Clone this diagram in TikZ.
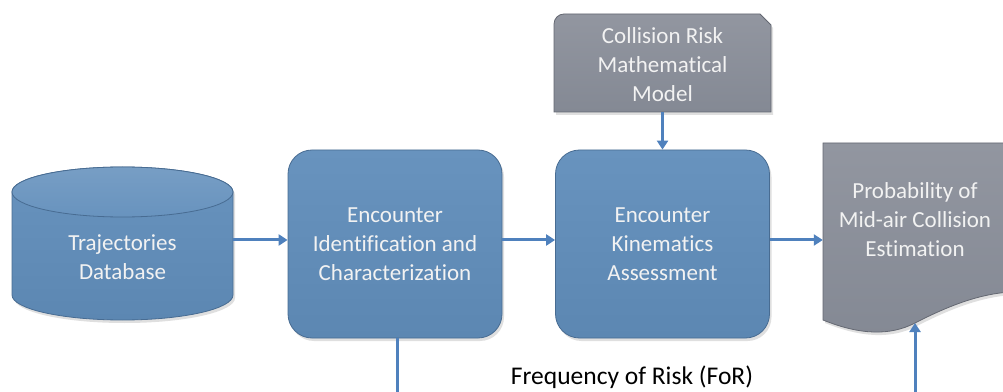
\documentclass[tikz,border=0pt]{standalone}
\usepackage{fontspec}
\setmainfont{Carlito}[Ligatures=NoCommon]
\usetikzlibrary{arrows.meta,shadows}
\definecolor{bluetop}{RGB}{104,147,190}
\definecolor{bluebot}{RGB}{92,135,178}
\definecolor{blueedge}{RGB}{72,108,146}
\definecolor{graytop}{RGB}{146,150,160}
\definecolor{graybot}{RGB}{132,137,148}
\definecolor{grayedge}{RGB}{100,104,114}
\definecolor{arrowblue}{RGB}{79,129,189}
\definecolor{txtwhite}{RGB}{242,242,242}
\tikzset{
  boxfont/.style={font=\fontsize{23}{29}\selectfont, text=txtwhite, align=center},
  bluebox/.style={boxfont, rounded corners=24pt, top color=bluetop, bottom color=bluebot,
     draw=blueedge, line width=0.8pt, minimum width=214pt, minimum height=188pt,
     drop shadow={opacity=0.25, shadow xshift=2pt, shadow yshift=-3pt}},
  blueshape/.style={top color=bluetop, bottom color=bluebot, draw=blueedge, line width=0.8pt,
     drop shadow={opacity=0.25, shadow xshift=2pt, shadow yshift=-3pt}},
  grayshape/.style={top color=graytop, bottom color=graybot, draw=grayedge, line width=0.8pt,
     drop shadow={opacity=0.25, shadow xshift=2pt, shadow yshift=-3pt}},
  ghost/.style={draw=none, fill=none, inner sep=0pt},
  arr/.style={draw=arrowblue, line width=3pt, -{Triangle[length=9pt,width=11pt]}},
  plainline/.style={draw=arrowblue, line width=3pt},
}
\begin{document}
\begin{tikzpicture}[x=1pt,y=1pt]
\useasboundingbox (0,0) rectangle (1003,391);
\fill[white] (0,0) rectangle (1003,391);

% cylinder (database)
\path[blueshape] (12,199) -- (12,96)
   arc[start angle=180, end angle=360, x radius=110.5, y radius=25]
   -- (233,199) arc[start angle=0, end angle=180, x radius=110.5, y radius=25] -- cycle;
\path[draw=blueedge, line width=0.8pt, top color=bluetop!90!white, bottom color=bluetop]
   (122.5,199) ellipse [x radius=110.5, y radius=25];
\node[ghost, minimum width=221pt, minimum height=153pt] (db) at (122.5,147.5) {};
\node[boxfont] (dbtxt) at (122.5,134) {Trajectories\\Database};

% process boxes
\node[bluebox] (b1) at (395,147) {Encounter\\Identification and\\Characterization};
\node[bluebox] (b2) at (662.5,147) {Encounter\\Kinematics\\Assessment};

% collision risk model (snipped corner)
\path[grayshape] (554,279) -- (554,367) arc[start angle=180, end angle=90, radius=10]
   -- (760,377) -- (771,366) -- (771,279) -- cycle;
\node[ghost, minimum width=217pt, minimum height=98pt] (cr) at (662.5,328) {};
\node[boxfont] (crtxt) at (662.5,326) {Collision Risk\\Mathematical\\Model};

% document shape
\path[grayshape] (823,248) -- (823,71)
   .. controls (860,56) and (890,55) .. (915,68)
   .. controls (950,86) and (980,97) .. (1010,99)
   -- (1010,248) -- cycle;
\node[ghost, minimum width=187pt, minimum height=177pt] (doc) at (916.5,160) {};
\node[boxfont] (doctxt) at (915,171) {Probability of\\Mid-air Collision\\Estimation};

% connectors
\coordinate (mid) at (0,151);
\draw[arr] (db.east |- mid) -- (b1.west |- mid);
\draw[arr] (b1.east |- mid) -- (b2.west |- mid);
\draw[arr] (b2.east |- mid) -- (doc.west |- mid);
\draw[arr] (cr.south) -- (b2.north);
\coordinate (b1out) at (397,-10);
\draw[plainline] (b1.south -| b1out) -- (b1out);
\coordinate (docin) at (915,68);
\coordinate (docsrc) at (915,-10);
\draw[arr] (docsrc) -- (docin);

\node[font=\fontsize{25.5}{30}\selectfont, text=black] (for) at (632,14) {Frequency of Risk (FoR)};
\end{tikzpicture}
\end{document}
